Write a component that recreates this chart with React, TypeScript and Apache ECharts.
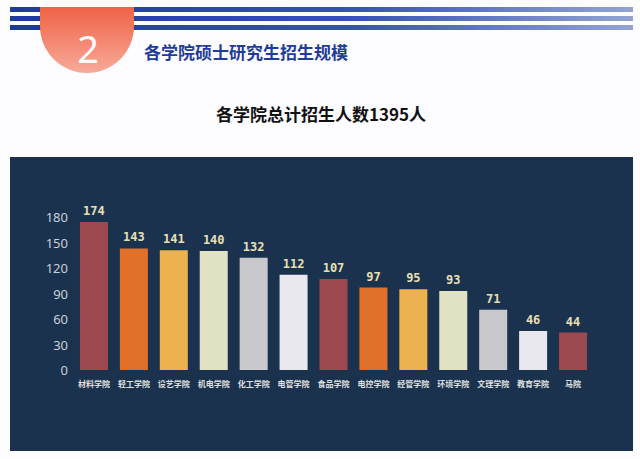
import React, { useEffect, useRef } from "react";
import * as echarts from "echarts";

const categories = ["材料学院", "轻工学院", "设艺学院", "机电学院", "化工学院", "电管学院", "食品学院", "电控学院", "经管学院", "环境学院", "文理学院", "教育学院", "马院"];
const values = [174, 143, 141, 140, 132, 112, 107, 97, 95, 93, 71, 46, 44];
const palette = ["#9c4a4f", "#e0712b", "#ecb24f", "#e1e1c3", "#c9c9cd", "#eae8ef"];
const yTicks = [0, 30, 60, 90, 120, 150, 180];
const headerTitle = "各学院硕士研究生招生规模";
const subTitle = "各学院总计招生人数1395人";
const sectionNo = "2";

echarts.graphic.registerShape(
  "tab",
  echarts.graphic.extendPath("M0 0 H94 V19 A47 47 0 0 1 0 19 Z", {})
);

export default function App() {
  const ref = useRef<HTMLDivElement>(null);
  useEffect(() => {
    if (!ref.current) return;
    const chart = echarts.init(ref.current, null, { renderer: "svg" });
    const stripeGrad = () =>
      new echarts.graphic.LinearGradient(0, 0, 1, 0, [
        { offset: 0, color: "#1f3a98" },
        { offset: 0.55, color: "#3553b0" },
        { offset: 1, color: "#93a3d3" },
      ]);
    chart.setOption({
      animation: false,
      backgroundColor: "#fdfcfe",
      graphic: [
        { type: "rect", z: 0, shape: { x: 10, y: 7, width: 623, height: 5 }, style: { fill: stripeGrad() } },
        { type: "rect", z: 0, shape: { x: 10, y: 16, width: 623, height: 5 }, style: { fill: stripeGrad() } },
        { type: "rect", z: 0, shape: { x: 10, y: 25, width: 623, height: 5 }, style: { fill: stripeGrad() } },
        {
          type: "tab",
          z: 1,
          x: 40,
          y: 7,
          style: {
            fill: new echarts.graphic.LinearGradient(0, 0, 0, 1, [
              { offset: 0, color: "#ef6246" },
              { offset: 1, color: "#f8aa9a" },
            ]),
          },
        },
        {
          type: "text",
          z: 2,
          x: 88,
          y: 48,
          style: { text: sectionNo, fill: "#ffffff", font: "38px 'Noto Sans'", textAlign: "center", textVerticalAlign: "middle" },
        },
        {
          type: "text",
          z: 2,
          x: 144,
          y: 51,
          style: { text: headerTitle, fill: "#213c98", font: "bold 17px 'Noto Sans CJK SC'", textVerticalAlign: "middle" },
        },
        {
          type: "text",
          z: 2,
          x: 321,
          y: 113,
          style: { text: subTitle, fill: "#111111", font: "bold 17px 'Noto Sans CJK SC'", textAlign: "center", textVerticalAlign: "middle" },
        },
        { type: "rect", z: -1, shape: { x: 10, y: 157, width: 623, height: 294 }, style: { fill: "#1a324e" } },
      ],
      grid: { left: 74, right: 47, top: 217, bottom: 89 },
      xAxis: {
        type: "category",
        data: categories,
        axisLine: { show: false },
        axisTick: { show: false },
        axisLabel: { color: "#e0e0e0", fontSize: 8, fontWeight: "bold", margin: 9, interval: 0, fontFamily: "Noto Sans CJK SC" },
      },
      yAxis: {
        type: "value",
        min: yTicks[0],
        max: yTicks[yTicks.length - 1],
        interval: 30,
        splitLine: { show: false },
        axisLine: { show: false },
        axisTick: { show: false },
        axisLabel: { color: "#c9d0da", fontSize: 13, margin: 6, fontFamily: "Noto Sans" },
      },
      series: [
        {
          type: "bar",
          z: 3,
          barWidth: 28,
          data: values.map((v, i) => ({ value: v, itemStyle: { color: palette[i % palette.length] } })),
          label: {
            show: true,
            position: "top",
            distance: 5,
            color: "#e8e0b2",
            fontSize: 12,
            fontWeight: "bold",
            fontFamily: "DejaVu Sans Mono",
          },
        },
      ],
    });
    return () => chart.dispose();
  }, []);
  return <div ref={ref} style={{ position: "absolute", left: 0, top: 0, width: 640, height: 459 }} />;
}
